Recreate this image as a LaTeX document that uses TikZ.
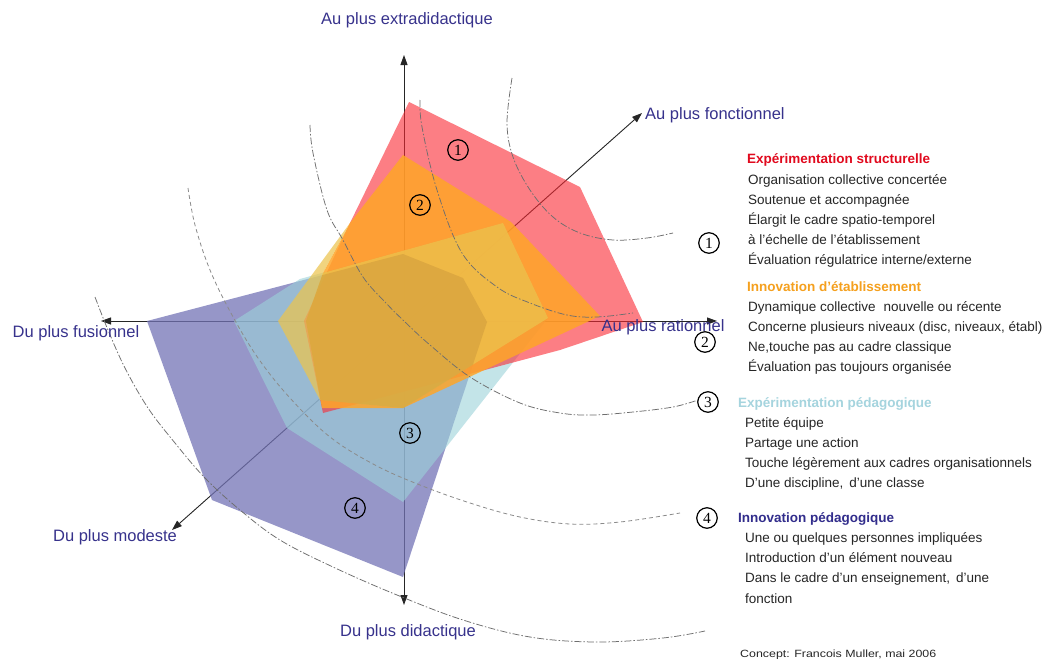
\documentclass[tikz,border=0pt]{standalone}
\usepackage{fontspec}
\setmainfont{Liberation Sans}
\newfontfamily\numfont{Liberation Serif}
\newfontfamily\creditfont[FakeStretch=1.18]{Liberation Sans}
\usetikzlibrary{arrows.meta}
\definecolor{axisblue}{RGB}{55,50,140}
\definecolor{redfill}{RGB}{250,40,50}
\definecolor{orangefill}{RGB}{255,165,40}
\definecolor{yellowfill}{RGB}{236,196,78}
\definecolor{cyanfill}{RGB}{155,210,217}
\definecolor{purplefill}{RGB}{115,115,182}
\definecolor{darktint}{RGB}{150,105,40}
\definecolor{titlered}{RGB}{225,10,30}
\definecolor{titleorange}{RGB}{245,160,30}
\definecolor{titlecyan}{RGB}{165,212,222}
\definecolor{titleblue}{RGB}{50,45,140}
\definecolor{arcgray}{RGB}{110,110,110}
\begin{document}
\begin{tikzpicture}[x=1pt,y=-1pt,
  axis/.style={line width=0.9pt, draw=black!85, {Triangle[length=10pt,width=7pt]}-{Triangle[length=10pt,width=7pt]}},
  axlabel/.style={font=\fontsize{16.5}{18}\selectfont, text=axisblue, inner sep=0pt},
  arcdd/.style={draw=arcgray, line width=0.75pt, dash pattern=on 7pt off 2pt on 1.5pt off 2pt},
  arcda/.style={draw=arcgray!80, line width=0.8pt, dash pattern=on 4pt off 3pt},
  numcirc/.style={circle, draw=black, line width=1.2pt, minimum size=20.5pt, inner sep=0pt, font=\numfont\fontsize{15.5}{15.5}\selectfont},
  leg/.style={anchor=base west, inner sep=0pt, font=\fontsize{13.5}{16}\selectfont, text=black!85},
  legtitle/.style={anchor=base west, inner sep=0pt, font=\bfseries\fontsize{13.5}{16}\selectfont}
]
\useasboundingbox (0,0) rectangle (1045,659);
\fill[white] (0,0) rectangle (1045,659);

% axes
\coordinate (axT) at (404,55);
\coordinate (axB) at (404,605);
\coordinate (axL) at (101,321);
\coordinate (axR) at (717,321);
\coordinate (axUR) at (642,113);
\coordinate (axLL) at (172,530);
\draw[axis] (axB) -- (axT);
\draw[axis] (axL) -- (axR);
\draw[axis] (axLL) -- (axUR);

% polygons
\fill[purplefill, opacity=0.75] (147,321) -- (403,254) -- (463,278) -- (487,322) -- (403,577) -- (212,500) -- cycle;
\fill[cyanfill, opacity=0.6] (234,321) -- (300,279) -- (503,223) -- (548,318) -- (403,502) -- (287,428) -- cycle;
\fill[redfill, opacity=0.6] (409,102) -- (580,187) -- (643,322) -- (560,350) -- (323,413) -- (304,321) -- (350,223) -- cycle;
\fill[orangefill, opacity=0.85] (403,155) -- (511,222) -- (600,316) -- (403,408) -- (322,408) -- (306,321) -- (323,273) -- (350,223) -- cycle;
\fill[yellowfill, opacity=0.72] (278,321) -- (350,223) -- (323,273) -- (503,223) -- (548,318) -- (403,408) -- (320,400) -- cycle;
\begin{scope}
  \clip (403,155) -- (511,222) -- (600,316) -- (403,408) -- (322,408) -- (306,321) -- (323,273) -- (350,223) -- cycle;
  \clip (278,321) -- (350,223) -- (323,273) -- (503,223) -- (548,318) -- (403,408) -- (320,400) -- cycle;
  \fill[darktint, opacity=0.2] (147,321) -- (403,254) -- (463,278) -- (487,322) -- (403,577) -- (212,500) -- cycle;
\end{scope}

% arcs
\draw[arcdd] plot[smooth, tension=0.6] coordinates {(512,78) (507,123) (513,157) (530,190) (553,217) (580,233) (613,240) (647,238) (673,233)};
\draw[arcdd] plot[smooth, tension=0.6] coordinates {(420,100) (422,127) (437,190) (462,253) (497,287) (530,303) (567,315) (597,317) (633,313)};
\draw[arcdd] plot[smooth, tension=0.6] coordinates {(310,125) (313,153) (327,210) (343,240) (363,277) (385,302) (405,322) (430,345) (470,377) (520,403) (560,413) (593,415) (633,412) (673,407) (698,400)};
\draw[arcda] plot[smooth, tension=0.6] coordinates {(188,188) (195,225) (210,270) (232,315) (258,358) (290,398) (330,437) (375,465) (420,485) (470,503) (520,517) (570,524) (620,522) (680,513)};
\draw[arcdd] plot[smooth, tension=0.6] coordinates {(95,297) (108,330) (125,368) (148,408) (175,443) (205,478) (240,510) (280,540) (333,567) (397,595) (463,620) (530,637) (597,642) (663,638) (705,631)};

% axis labels
\node[axlabel] (lT) at (407,20) {Au plus extradidactique};
\node[axlabel, anchor=west] (lUR) at (645,115) {Au plus fonctionnel};
\node[axlabel] (lR) at (663,327) {Au plus rationnel};
\node[axlabel] (lL) at (76,333) {Du plus fusionnel};
\node[axlabel] (lLL) at (115,537) {Du plus modeste};
\node[axlabel] (lB) at (408,632) {Du plus didactique};

% circled numbers in chart
\node[numcirc] (c1) at (458,150) {1};
\node[numcirc] (c2) at (420,205) {2};
\node[numcirc] (c3) at (410,433) {3};
\node[numcirc] (c4) at (355,508) {4};
% circled numbers in legend
\node[numcirc] (r1) at (709,243) {1};
\node[numcirc] (r2) at (705,342) {2};
\node[numcirc] (r3) at (708,402) {3};
\node[numcirc] (r4) at (707,518) {4};

% legend group 1
\node[legtitle, text=titlered] (g1t) at (747,163) {Expérimentation structurelle};
\node[leg] (g1a) at (748,184) {Organisation collective concertée};
\node[leg] (g1b) at (748,204) {Soutenue et accompagnée};
\node[leg] (g1c) at (748,224) {Élargit le cadre spatio-temporel};
\node[leg] (g1d) at (748,244) {à l’échelle de l’établissement};
\node[leg] (g1e) at (748,264) {Évaluation régulatrice interne/externe};
% group 2
\node[legtitle, text=titleorange] (g2t) at (747,291) {Innovation d’établissement};
\node[leg] (g2a) at (748,311) {Dynamique collective\hspace{8pt}nouvelle ou récente};
\node[leg] (g2b) at (748,331) {Concerne plusieurs niveaux (disc, niveaux, établ)};
\node[leg] (g2c) at (748,351) {Ne,touche pas au cadre classique};
\node[leg] (g2d) at (748,371) {Évaluation pas toujours organisée};
% group 3
\node[legtitle, text=titlecyan] (g3t) at (738,407) {Expérimentation pédagogique};
\node[leg] (g3a) at (745,427) {Petite équipe};
\node[leg] (g3b) at (745,447) {Partage une action};
\node[leg] (g3c) at (745,467) {Touche légèrement aux cadres organisationnels};
\node[leg] (g3d) at (745,487) {D’une discipline,\hspace{6pt}d’une classe};
% group 4
\node[legtitle, text=titleblue] (g4t) at (738,522) {Innovation pédagogique};
\node[leg] (g4a) at (745,542) {Une ou quelques personnes impliquées};
\node[leg] (g4b) at (745,562) {Introduction d’un élément nouveau};
\node[leg] (g4c) at (745,582) {Dans le cadre d’un enseignement,\hspace{6pt}d’une};
\node[leg] (g4d) at (745,603) {fonction};

% credit
\node[anchor=base west, inner sep=0pt, font=\creditfont\fontsize{10.5}{12}\selectfont, text=black!85] (credit) at (740,657) {Concept: Francois Muller, mai 2006};
\end{tikzpicture}
\end{document}
